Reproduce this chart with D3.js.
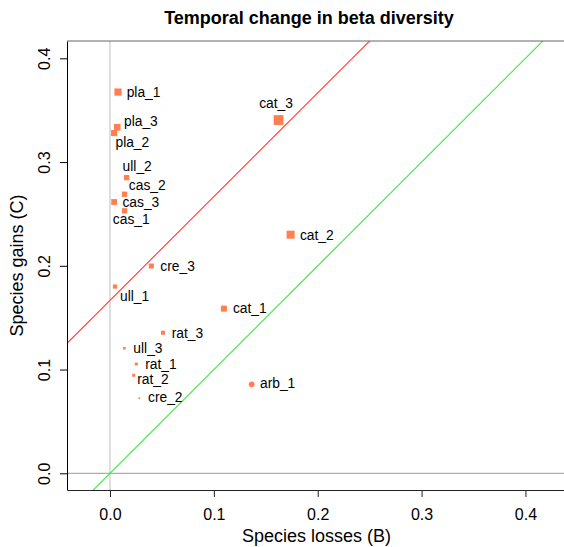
<!DOCTYPE html>
<html><head><meta charset="utf-8">
<script src="https://cdn.jsdelivr.net/npm/d3@7"></script>
<style>body{margin:0;background:#fff}svg{display:block;font-family:"Liberation Sans",Arial,Helvetica,sans-serif}</style>
</head><body><div id="chart"></div>
<script>
// ---- data ----
const labels  = ["pla_1","pla_3","pla_2","ull_2","cas_2","cas_3","cas_1","cre_3","ull_1","cat_1","rat_3","ull_3","rat_1","rat_2","cre_2","arb_1","cat_3","cat_2"];
const losses  = [0.0077,0.0070,0.0040,0.0160,0.0140,0.0040,0.0140,0.0398,0.0048,0.1097,0.0510,0.0138,0.0253,0.0228,0.0282,0.1364,0.1623,0.1739];
const gains   = [0.3675,0.3335,0.3280,0.2850,0.2690,0.2615,0.2530,0.1998,0.1800,0.1587,0.1355,0.1205,0.1053,0.0945,0.0723,0.0858,0.3405,0.2300];
const magnitude = [7.2,6.6,6.2,5.3,5.3,5.8,5.3,5.0,4.2,6.0,4.0,2.6,3.0,3.0,1.7,5.8,9.8,8.0];
const shapes  = ["s","s","s","s","s","s","s","s","s","s","s","s","s","s","s","c","s","s"];
const xTicks = [0.0,0.1,0.2,0.3,0.4];
const yTicks = [0.0,0.1,0.2,0.3,0.4];
const redIntercept = 0.1667, greenIntercept = 0.0, lineSlope = 1;
// label nudges (layout, px): [dx, dy]
const labelNudge = [[8.7,0],[6.7,-6.6],[1.3,9],[-4,-11],[4.3,-9],[8.3,0],[-11.7,8.3],[9,0],[5,9.3],[9,0],[8.7,0],[9,0],[9,0],[3.6,3.7],[8.7,-1.3],[8.3,-1.3],[-19.4,-17],[9.3,0]];

const W=564,H=547;
const svg=d3.select("#chart").append("svg").attr("width",W).attr("height",H);
const L=67,T=41,B=490,R=567;
const x=d3.scaleLinear().domain([-0.0414,0.44]).range([L,R]);
const y=d3.scaleLinear().domain([-0.0161,0.4167]).range([B,T]);
const size=d3.scaleLinear().domain([0,10]).range([0,10]);

const clip=svg.append("clipPath").attr("id","c").append("rect").attr("x",L).attr("y",T).attr("width",R-L).attr("height",B-T);
const g=svg.append("g").attr("clip-path","url(#c)");

// reference lines
g.append("line").attr("x1",x(0)).attr("x2",x(0)).attr("y1",T).attr("y2",B).attr("stroke","#bdbdbd").attr("stroke-width",1);
g.append("line").attr("x1",L).attr("x2",R).attr("y1",y(0)).attr("y2",y(0)).attr("stroke","#999").attr("stroke-width",1);
const xd=x.domain();
function abline(a,b,col){
  g.append("line").attr("x1",x(xd[0])).attr("y1",y(a+b*xd[0])).attr("x2",x(xd[1])).attr("y2",y(a+b*xd[1])).attr("stroke",col).attr("stroke-width",1.1);
}
abline(redIntercept,lineSlope,"#ff3b3b");
abline(greenIntercept,lineSlope,"#3de83d");

// points
const pts=labels.map((l,i)=>({l,x:losses[i],y:gains[i],m:magnitude[i],s:shapes[i],n:labelNudge[i]}));
const col="#ff7f50";
pts.forEach(p=>{
  const s=size(p.m);
  if(p.s==="c") g.append("circle").attr("cx",x(p.x)).attr("cy",y(p.y)).attr("r",s/2).attr("fill",col);
  else g.append("rect").attr("x",x(p.x)-s/2).attr("y",y(p.y)-s/2).attr("width",s).attr("height",s).attr("fill",col);
  g.append("text").attr("x",x(p.x)+p.n[0]).attr("y",y(p.y)+p.n[1]).attr("dy","0.35em").attr("font-size",13.8).attr("fill","#000").text(p.l);
});

// axes
const xa=svg.append("g").attr("transform",`translate(0,${B})`).call(d3.axisBottom(x).tickValues(xTicks).tickFormat(d3.format(".1f")).tickSize(7).tickSizeOuter(0));
xa.select(".domain").attr("stroke","#222");
xa.selectAll(".tick line").attr("stroke","#222");
xa.selectAll(".tick text").attr("font-size",16).attr("font-family","Liberation Sans, Arial, sans-serif").attr("fill","#000").attr("y",null).attr("dy",null).attr("transform","translate(0,30)");
const ya=svg.append("g").attr("transform",`translate(${L},0)`).call(d3.axisLeft(y).tickValues(yTicks).tickFormat(d3.format(".1f")).tickSize(7).tickSizeOuter(0));
ya.select(".domain").attr("stroke","#000");
ya.selectAll(".tick line").attr("stroke","#000");
ya.selectAll(".tick text").attr("font-size",16).attr("font-family","Liberation Sans, Arial, sans-serif").attr("fill","#000").attr("x",null).attr("dy",null).attr("text-anchor","middle").attr("transform","translate(-17,0) rotate(-90)");
// top border
svg.append("line").attr("x1",L).attr("x2",R).attr("y1",T).attr("y2",T).attr("stroke","#666").attr("stroke-width",1);

// titles
svg.append("text").attr("x",309).attr("y",24).attr("text-anchor","middle").attr("font-size",18).attr("font-weight","bold").text("Temporal change in beta diversity");
svg.append("text").attr("x",316.5).attr("y",542).attr("text-anchor","middle").attr("font-size",18).text("Species losses (B)");
svg.append("text").attr("transform",`translate(23,${(T+B)/2}) rotate(-90)`).attr("text-anchor","middle").attr("font-size",18).text("Species gains (C)");
</script></body></html>
